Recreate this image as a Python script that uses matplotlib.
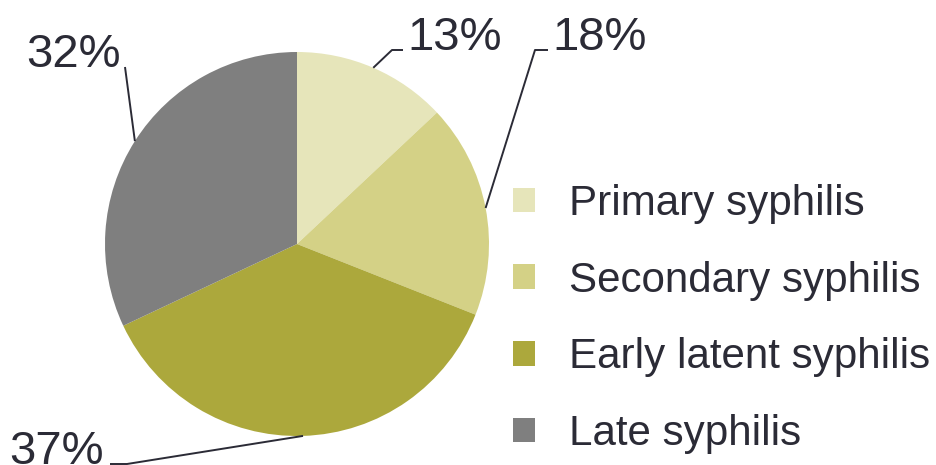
import numpy as np
import matplotlib
matplotlib.use("Agg")
import matplotlib.pyplot as plt

categories = ["Primary syphilis", "Secondary syphilis", "Early latent syphilis", "Late syphilis"]
values = [13, 18, 37, 32]
pct_labels = ["13%", "18%", "37%", "32%"]
colors = ["#E6E5BA", "#D4D186", "#ACA83C", "#7F7F7F"]

TXT = "#2B2B36"
W, H = 937, 465
fig = plt.figure(figsize=(W / 100, H / 100), dpi=100)
ax = fig.add_axes([0, 0, 1, 1])
ax.set_xlim(0, W)
ax.set_ylim(0, H)
ax.set_aspect("equal")
ax.axis("off")

cx, cy, r = 297, H - 244, 192
wedges, _ = ax.pie(values, colors=colors, startangle=90, counterclock=False,
                   center=(cx, cy), radius=r, frame=True,
                   wedgeprops=dict(linewidth=0))
ax.set_xlim(0, W)
ax.set_ylim(0, H)
ax.axis("off")

# label layout: (elbow x, elbow y, end x, text x, ha)  in pixel coords (y from top)
layout = [
    (392, 50, 403, 407, "left"),
    (535, 50, 548, 552, "left"),
    (127, 464, 110, 104, "right"),
    (125, 67, 125, 121, "right"),
]
for w, lab, (ex, ey, tx_end, tx, ha) in zip(wedges, pct_labels, layout):
    ang = np.deg2rad((w.theta1 + w.theta2) / 2)
    px, py = cx + r * np.cos(ang), cy + r * np.sin(ang)
    ax.plot([px, ex, tx_end], [py, H - ey, H - ey], color=TXT, lw=1.4,
            solid_capstyle="butt", clip_on=False)
    ax.text(tx, H - ey, lab, ha=ha, va="baseline", fontsize=34,
            family="Liberation Sans", color=TXT)

leg = ax.legend(wedges, categories, loc="upper left",
                bbox_to_anchor=(513 / W, 1 - 184 / H), frameon=False,
                prop=dict(family="Liberation Sans", size=30.3),
                handlelength=0.52, handleheight=0.52, handletextpad=0.8,
                labelspacing=0.87, borderaxespad=0, borderpad=0)
for t in leg.get_texts():
    t.set_color(TXT)

fig.savefig("out.png", dpi=100)
